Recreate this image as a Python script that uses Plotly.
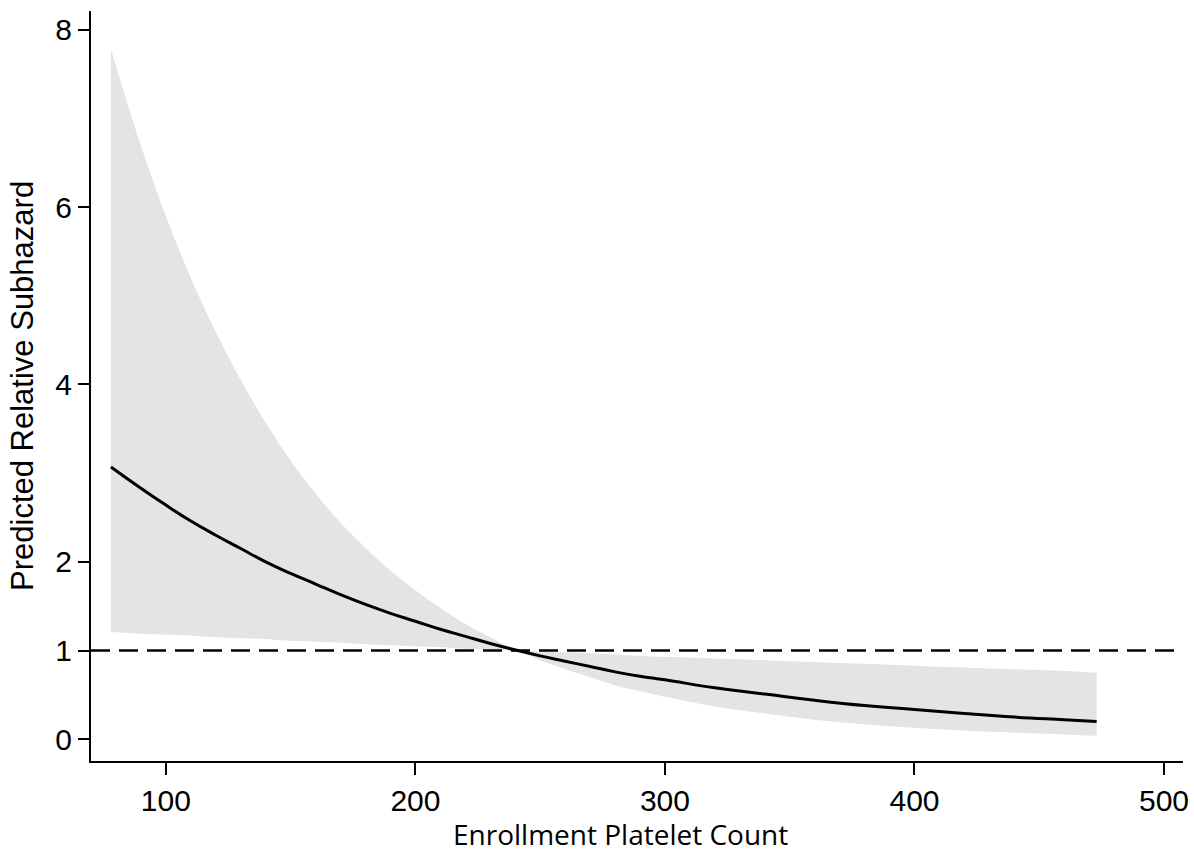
import plotly.graph_objects as go

# Enrollment platelet count (x) and predicted relative subhazard with 95% CI
platelet = [78, 90, 100, 110, 120, 130, 140, 150, 160, 170, 180, 190, 200, 210,
            220, 230, 241, 250, 260, 270, 280, 290, 300, 320, 340, 360, 380, 400,
            420, 440, 460, 473]
shr = [3.07, 2.83, 2.64, 2.46, 2.30, 2.15, 2.00, 1.87, 1.75, 1.63, 1.52, 1.42,
       1.33, 1.24, 1.16, 1.08, 1.00, 0.94, 0.88, 0.82, 0.76, 0.71, 0.67, 0.58,
       0.51, 0.44, 0.38, 0.335, 0.29, 0.25, 0.22, 0.20]
ci_upper = [7.78, 6.69, 5.90, 5.20, 4.59, 4.05, 3.57, 3.14, 2.77, 2.44, 2.16,
            1.90, 1.68, 1.48, 1.30, 1.15, 1.00, 0.99, 0.98, 0.967, 0.955, 0.94,
            0.93, 0.91, 0.89, 0.87, 0.85, 0.83, 0.81, 0.79, 0.77, 0.75]
ci_lower = [1.21, 1.19, 1.18, 1.17, 1.15, 1.14, 1.13, 1.11, 1.10, 1.09, 1.07,
            1.06, 1.05, 1.04, 1.02, 1.01, 1.00, 0.89, 0.79, 0.70, 0.61, 0.54,
            0.48, 0.37, 0.29, 0.22, 0.17, 0.13, 0.10, 0.075, 0.055, 0.04]

x_ticks = [100, 200, 300, 400, 500]
y_ticks = [0, 1, 2, 4, 6, 8]
reference_value = 1
x_title = "Enrollment Platelet Count"
y_title = "Predicted Relative Subhazard"

fig = go.Figure()
fig.add_trace(go.Scatter(x=platelet, y=ci_lower, mode="lines",
                         line=dict(width=0, shape="spline", color="rgba(0,0,0,0)"),
                         showlegend=False, hoverinfo="skip"))
fig.add_trace(go.Scatter(x=platelet, y=ci_upper, mode="lines", fill="tonexty",
                         fillcolor="#e4e4e4",
                         line=dict(width=0, shape="spline", color="rgba(0,0,0,0)"),
                         showlegend=False, hoverinfo="skip"))
fig.add_shape(type="line", xref="paper", x0=0, x1=1, yref="y",
              y0=reference_value, y1=reference_value,
              line=dict(color="black", width=2.5, dash="19px,9px"))
fig.add_trace(go.Scatter(x=platelet, y=shr, mode="lines",
                         line=dict(color="black", width=3, shape="spline", smoothing=1.3),
                         showlegend=False))

fig.add_annotation(text=x_title, xref="paper", yref="paper", x=0.4853, y=-0.0973,
                   xanchor="center", yanchor="middle", showarrow=False,
                   font=dict(family="Open Sans", size=28, color="black"))
fig.add_annotation(text=y_title, xref="paper", yref="paper", x=-0.0632, y=0.5,
                   xanchor="center", yanchor="middle", showarrow=False, textangle=-90,
                   font=dict(family="Liberation Sans, Arial", size=31, color="black"))

fig.update_layout(
    width=1194, height=852,
    margin=dict(l=91, r=11, t=11, b=91),
    paper_bgcolor="white", plot_bgcolor="white",
    showlegend=False,
    xaxis=dict(range=[70, 507.6], tickvals=x_ticks,
               ticktext=[str(v) for v in x_ticks], automargin=False,
               showline=True, linecolor="black", linewidth=2,
               ticks="outside", ticklen=12, tickwidth=1.5, tickcolor="black",
               showgrid=False, zeroline=False,
               tickfont=dict(family="Liberation Sans, Arial", size=30, color="black")),
    yaxis=dict(range=[-0.245, 8.21], tickvals=y_ticks,
               ticktext=[str(v) for v in y_ticks], automargin=False,
               showline=True, linecolor="black", linewidth=2,
               ticks="outside", ticklen=11, tickwidth=1.5, tickcolor="black",
               showgrid=False, zeroline=False,
               tickfont=dict(family="Liberation Sans, Arial", size=30, color="black")),
)

fig.write_html("out.html")
